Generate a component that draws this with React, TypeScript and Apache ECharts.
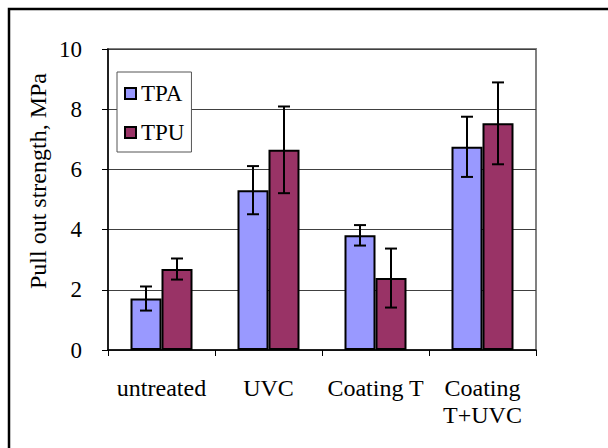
import React, { useEffect, useRef } from "react";
import * as echarts from "echarts";

const categories = ["untreated", "UVC", "Coating T", "Coating\nT+UVC"];
const tpaValues = [1.71, 5.31, 3.81, 6.75];
const tpuValues = [2.69, 6.65, 2.39, 7.53];
const tpaErrors = [0.4, 0.8, 0.34, 1.0];
const tpuErrors = [0.35, 1.44, 0.98, 1.36];
const yTicks = { min: 0, max: 10, interval: 2 };

const FONT = "Liberation Serif";
const BAR_W = 31;

function errData(vals: number[], errs: number[]) {
  return vals.map((v, i) => [i, v - errs[i], v + errs[i]]);
}

function makeErrSeries(name: string, vals: number[], errs: number[], offset: number) {
  return {
    type: "custom",
    name: name + " err",
    z: 10,
    silent: true,
    encode: { x: 0, y: [1, 2] },
    data: errData(vals, errs),
    renderItem: (params: any, api: any) => {
      const idx = api.value(0);
      const x = api.coord([idx, 0])[0] + offset;
      const y1 = api.coord([idx, api.value(1)])[1];
      const y2 = api.coord([idx, api.value(2)])[1];
      const cap = 6;
      const style = { stroke: "#000", lineWidth: 2 };
      return {
        type: "group",
        children: [
          { type: "line", shape: { x1: x, y1: y1, x2: x, y2: y2 }, style },
          { type: "line", shape: { x1: x - cap, y1: y1, x2: x + cap, y2: y1 }, style },
          { type: "line", shape: { x1: x - cap, y1: y2, x2: x + cap, y2: y2 }, style },
        ],
      };
    },
  };
}

export default function App() {
  const ref = useRef<HTMLDivElement>(null);
  useEffect(() => {
    if (!ref.current) return;
    const chart = echarts.init(ref.current, null, { renderer: "svg" });
    chart.setOption({
      animation: false,
      backgroundColor: "#fff",
      textStyle: { fontFamily: FONT },
      graphic: [
        {
          type: "rect",
          shape: { x: 9, y: 9, width: 700, height: 600 },
          style: { fill: "none", stroke: "#000", lineWidth: 2.5 },
          z: 0,
        },
        {
          type: "text",
          x: 38,
          y: 181,
          rotation: Math.PI / 2,
          style: {
            text: "Pull out strength, MPa",
            fontSize: 24,
            fontFamily: FONT,
            fill: "#000",
            align: "center",
            verticalAlign: "middle",
          },
        },
      ],
      legend: {
        left: 117,
        top: 72,
        orient: "vertical",
        backgroundColor: "#fff",
        borderColor: "#555",
        borderWidth: 1,
        padding: [10, 7, 8, 7],
        itemGap: 16,
        itemWidth: 11,
        itemHeight: 11,
        icon: "rect",
        data: ["TPA", "TPU"],
        itemStyle: { borderColor: "#000", borderWidth: 2 },
        textStyle: { fontSize: 23, fontFamily: "serif", color: "#000" },
        z: 20,
      },
      grid: {
        left: 108,
        right: 72,
        top: 49,
        bottom: 98,
        show: true,
        borderColor: "#808080",
        borderWidth: 2,
        backgroundColor: "transparent",
      },
      xAxis: {
        type: "category",
        data: categories,
        axisLine: { lineStyle: { color: "#000", width: 1.5 } },
        axisTick: { show: true, length: 6, interval: 0, alignWithLabel: false, lineStyle: { color: "#000" } },
        axisLabel: {
          interval: 0,
          margin: 24,
          fontSize: 24,
          fontFamily: "Times New Roman",
          color: "#000",
          lineHeight: 27.5,
        },
        splitLine: { show: false },
      },
      yAxis: {
        type: "value",
        min: yTicks.min,
        max: yTicks.max,
        interval: yTicks.interval,
        axisLine: { show: true, lineStyle: { color: "#000", width: 1.5 } },
        axisTick: { show: true, length: 6, lineStyle: { color: "#000" } },
        axisLabel: {
          margin: 26,
          textStyle: { fontFamily: FONT },
          fontSize: 23,
          fontFamily: FONT,
          color: "#000",
        },
        splitLine: { show: true, lineStyle: { color: "#404040", width: 1 } },
      },
      series: [
        {
          name: "TPA",
          type: "bar",
          data: tpaValues,
          barWidth: BAR_W,
          barGap: "0%",
          itemStyle: { color: "#9999FF", borderColor: "#000", borderWidth: 2 },
        },
        {
          name: "TPU",
          type: "bar",
          data: tpuValues,
          barWidth: BAR_W,
          barGap: "0%",
          itemStyle: { color: "#993366", borderColor: "#000", borderWidth: 2 },
        },
        makeErrSeries("TPA", tpaValues, tpaErrors, -BAR_W / 2),
        makeErrSeries("TPU", tpuValues, tpuErrors, BAR_W / 2),
      ],
    });
    return () => chart.dispose();
  }, []);
  return (
    <div
      ref={ref}
      style={{ position: "fixed", left: 0, top: 0, width: 608, height: 448 }}
    />
  );
}
